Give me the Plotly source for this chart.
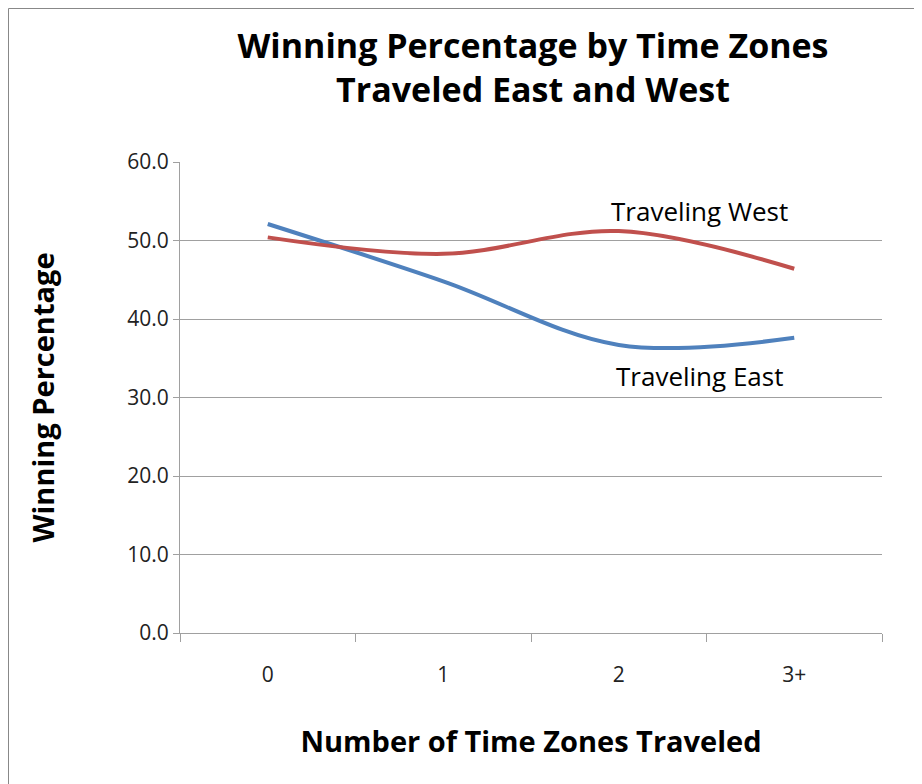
import plotly.graph_objects as go

categories = ["0", "1", "2", "3+"]
traveling_east = [52.1, 44.8, 36.7, 37.6]
traveling_west = [50.4, 48.3, 51.2, 46.4]
y_ticks = [0, 10, 20, 30, 40, 50, 60]
y_tick_labels = ["0.0", "10.0", "20.0", "30.0", "40.0", "50.0", "60.0"]

FONT = "Open Sans, Liberation Sans, sans-serif"

fig = go.Figure()
fig.add_trace(go.Scatter(x=categories, y=traveling_east, mode="lines",
                         line=dict(color="#4F81BD", width=4, shape="spline"),
                         name="Traveling East"))
fig.add_trace(go.Scatter(x=categories, y=traveling_west, mode="lines",
                         line=dict(color="#C0504D", width=4, shape="spline"),
                         name="Traveling West"))

# page has 8px body margin, so figure is 914x776 and offsets are shifted by 8
fig.update_layout(
    width=914, height=776,
    margin=dict(l=172, r=40, t=154, b=151),
    paper_bgcolor="white", plot_bgcolor="white",
    showlegend=False,
    title=dict(text="<b>Winning Percentage by Time Zones<br>Traveled East and West</b>",
               x=(525 - 172) / 702, xref="paper", xanchor="center",
               y=1 - 50 / 776, yanchor="middle",
               font=dict(family=FONT, size=34, color="black")),
    font=dict(family=FONT, color="black"),
)
fig.update_xaxes(type="category", range=[-0.5, 3.5], automargin=False,
                 showgrid=False, showline=True, linecolor="#A0A0A0",
                 linewidth=1, ticks="outside", tickson="boundaries", ticklen=8,
                 tickcolor="#A0A0A0", tickfont=dict(size=21, color="#222"),
                 ticklabelstandoff=23,
                 title=dict(text="<b>Number of Time Zones Traveled</b>",
                            font=dict(size=29, color="black"), standoff=44))
fig.update_yaxes(range=[0, 60], tickvals=y_ticks, ticktext=y_tick_labels,
                 automargin=False,
                 showgrid=True, gridcolor="#A0A0A0", gridwidth=1,
                 showline=True, linecolor="#A0A0A0", linewidth=1,
                 ticks="outside", ticklen=6, tickcolor="#A0A0A0",
                 tickfont=dict(size=21, color="#222"), zeroline=False,
                 title=dict(text="<b>Winning Percentage</b>",
                            font=dict(size=29, color="black"), standoff=64))

fig.add_annotation(x=2.46, y=53.8, xref="x", yref="y", text="Traveling West",
                   showarrow=False, font=dict(size=26, color="black"))
fig.add_annotation(x=2.46, y=32.8, xref="x", yref="y", text="Traveling East",
                   showarrow=False, font=dict(size=26, color="black"))

# chart frame
fig.add_shape(type="rect", xref="paper", yref="paper",
              x0=(0.5 - 172) / 702, x1=(930 - 172) / 702,
              y0=-(200) / 471, y1=(625 - 0.5) / 471,
              line=dict(color="#888888", width=1), fillcolor="rgba(0,0,0,0)")

fig.write_html("out.html")
